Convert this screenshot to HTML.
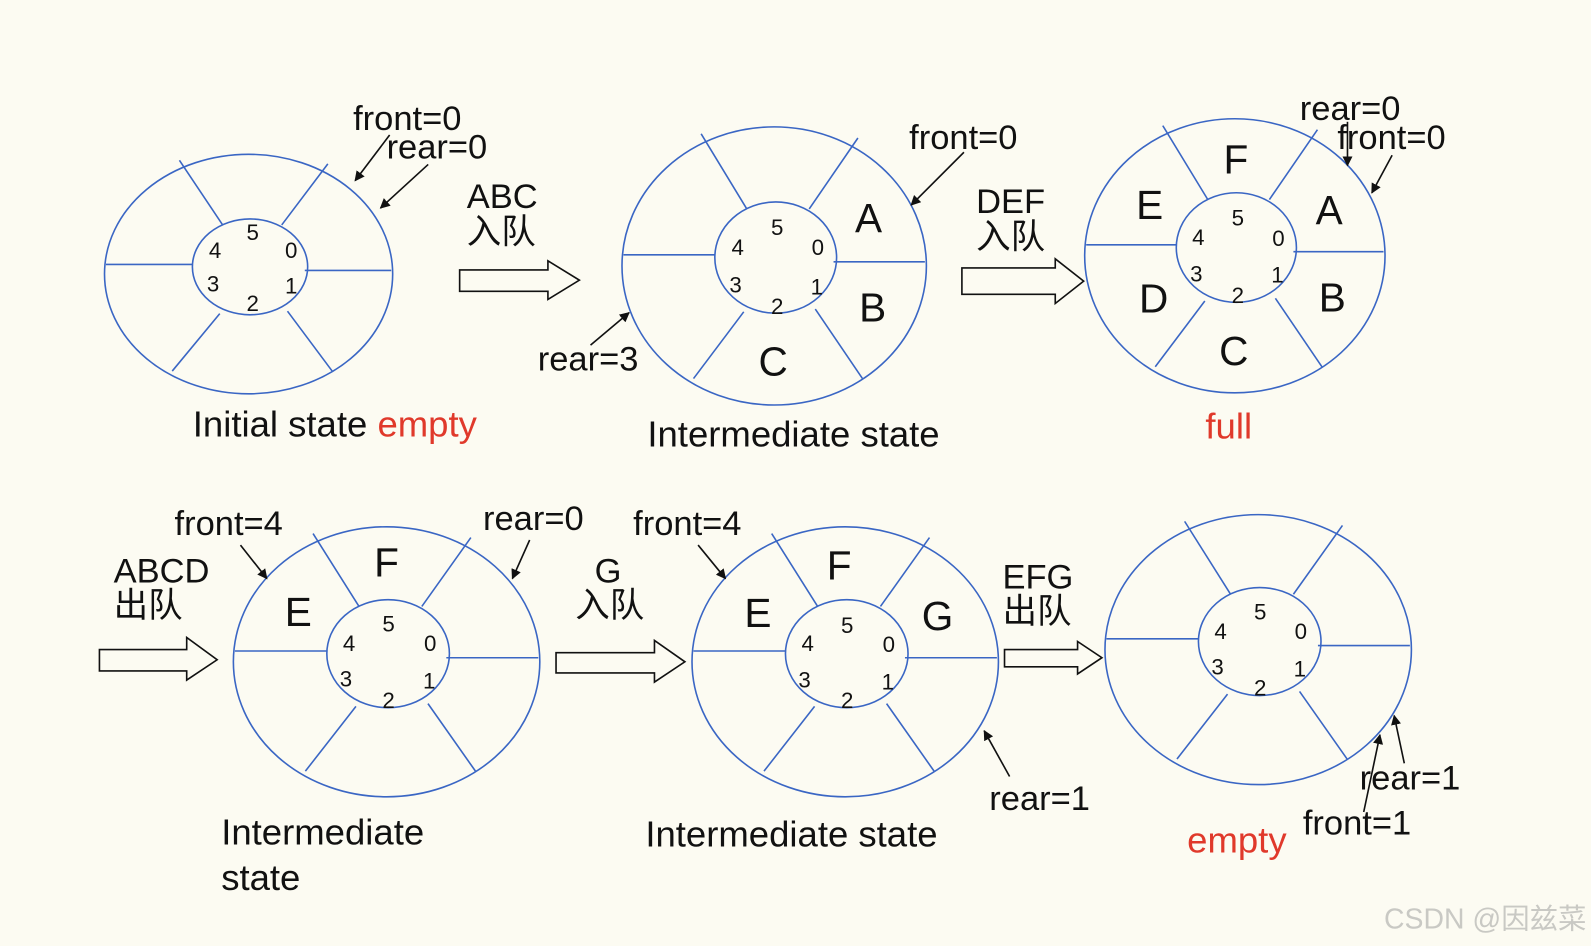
<!DOCTYPE html>
<html><head><meta charset="utf-8"><style>
html,body{margin:0;padding:0;background:#fcfbf2;}
svg{display:block;}
text{font-family:"Liberation Sans","Noto Sans CJK SC",sans-serif;fill:#111;}
.n{font-size:22px;text-anchor:middle;dominant-baseline:central;}
.L{font-size:40px;text-anchor:middle;dominant-baseline:central;}
.t{font-size:34px;}
.c{font-size:34px;}
.r{fill:#e0392b;}
</style></head><body>
<svg width="1591" height="946" viewBox="0 0 1568 932" preserveAspectRatio="none" xmlns="http://www.w3.org/2000/svg">
<defs>
<g id="ring" fill="none" stroke="#3a66c4" stroke-width="1.6">
<ellipse cx="0" cy="0" rx="100" ry="100" vector-effect="non-scaling-stroke"/>
<ellipse cx="1" cy="-6" rx="40" ry="40" vector-effect="non-scaling-stroke"/>
<line x1="-48" y1="-95" x2="-18" y2="-41" vector-effect="non-scaling-stroke"/>
<line x1="55" y1="-92" x2="23" y2="-41" vector-effect="non-scaling-stroke"/>
<line x1="-99" y1="-8" x2="-39" y2="-8" vector-effect="non-scaling-stroke"/>
<line x1="39" y1="-3" x2="99" y2="-3" vector-effect="non-scaling-stroke"/>
<line x1="-53" y1="81" x2="-20" y2="33" vector-effect="non-scaling-stroke"/>
<line x1="58" y1="81" x2="27" y2="31" vector-effect="non-scaling-stroke"/>
</g>
<marker id="ah" markerWidth="10" markerHeight="10" refX="9" refY="5" orient="auto" markerUnits="userSpaceOnUse" viewBox="0 0 10 10"><path d="M0,0 L10,5 L0,10 Z" fill="#111"/></marker>
</defs>
<rect width="1568" height="932" fill="#fcfbf2"/>

<use href="#ring" transform="translate(245,270) scale(1.42,1.18)"/>
<use href="#ring" transform="translate(763,262) scale(1.5,1.37)"/>
<use href="#ring" transform="translate(1217,252) scale(1.48,1.35)"/>
<use href="#ring" transform="translate(381,652) scale(1.51,1.33)"/>
<use href="#ring" transform="translate(833,652) scale(1.51,1.33)"/>
<use href="#ring" transform="translate(1240,640) scale(1.51,1.33)"/>

<!-- numbers -->
<g class="n">
<text class="n" x="249" y="229">5</text><text class="n" x="212" y="247">4</text><text class="n" x="287" y="247">0</text><text class="n" x="210" y="280">3</text><text class="n" x="287" y="282">1</text><text class="n" x="249" y="299">2</text>
<text class="n" x="766" y="224">5</text><text class="n" x="727" y="244">4</text><text class="n" x="806" y="244">0</text><text class="n" x="725" y="281">3</text><text class="n" x="805" y="283">1</text><text class="n" x="766" y="302">2</text>
<text class="n" x="1220" y="215">5</text><text class="n" x="1181" y="234">4</text><text class="n" x="1260" y="235">0</text><text class="n" x="1179" y="270">3</text><text class="n" x="1259" y="271">1</text><text class="n" x="1220" y="291">2</text>
<text class="n" x="383" y="615">5</text><text class="n" x="344" y="634">4</text><text class="n" x="424" y="634">0</text><text class="n" x="341" y="669">3</text><text class="n" x="423" y="671">1</text><text class="n" x="383" y="690">2</text>
<text class="n" x="835" y="616">5</text><text class="n" x="796" y="634">4</text><text class="n" x="876" y="635">0</text><text class="n" x="793" y="670">3</text><text class="n" x="875" y="672">1</text><text class="n" x="835" y="690">2</text>
<text class="n" x="1242" y="603">5</text><text class="n" x="1203" y="622">4</text><text class="n" x="1282" y="622">0</text><text class="n" x="1200" y="657">3</text><text class="n" x="1281" y="659">1</text><text class="n" x="1242" y="678">2</text>
</g>

<!-- letters -->
<text class="L" x="856" y="215">A</text><text class="L" x="860" y="303">B</text><text class="L" x="762" y="356">C</text>
<text class="L" x="1218" y="157">F</text><text class="L" x="1133" y="202">E</text><text class="L" x="1310" y="207">A</text><text class="L" x="1137" y="294">D</text><text class="L" x="1313" y="293">B</text><text class="L" x="1216" y="346">C</text>
<text class="L" x="381" y="554">F</text><text class="L" x="294" y="603">E</text>
<text class="L" x="827" y="557">F</text><text class="L" x="747" y="604">E</text><text class="L" x="924" y="607">G</text>

<!-- pointer arrows -->
<g stroke="#111" stroke-width="1.6" fill="none" marker-end="url(#ah)">
<line x1="384" y1="133" x2="350" y2="178"/>
<line x1="422" y1="162" x2="375" y2="205"/>
<line x1="950" y1="150" x2="898" y2="202"/>
<line x1="582" y1="340" x2="620" y2="308"/>
<line x1="1328" y1="120" x2="1328" y2="163"/>
<line x1="1372" y1="153" x2="1352" y2="190"/>
<line x1="237" y1="537" x2="263" y2="570"/>
<line x1="522" y1="532" x2="505" y2="570"/>
<line x1="688" y1="537" x2="715" y2="570"/>
<line x1="995" y1="765" x2="970" y2="720"/>
<line x1="1384" y1="752" x2="1374" y2="705"/>
<line x1="1344" y1="800" x2="1360" y2="724"/>
</g>

<!-- hollow arrows -->
<g fill="#fcfbf2" stroke="#111" stroke-width="1.6">
<polygon points="453,266 540,266 540,257 571,276 540,295 540,287 453,287"/>
<polygon points="948,264 1040,264 1040,255 1068,277 1040,299 1040,290 948,290"/>
<polygon points="98,640 184,640 184,628 214,650 184,670 184,661 98,661"/>
<polygon points="548,643 645,643 645,631 675,652 645,672 645,663 548,663"/>
<polygon points="990,640 1062,640 1062,632 1086,648 1062,664 1062,657 990,657"/>
</g>

<!-- labels -->
<text class="t" x="348" y="128">front=0</text>
<text class="t" x="381" y="156">rear=0</text>
<text class="c" x="460" y="205">ABC</text><text class="c" x="460" y="240">入队</text>
<text class="t" x="896" y="147">front=0</text>
<text class="t" x="530" y="365">rear=3</text>
<text class="c" x="962" y="210">DEF</text><text class="c" x="962" y="245">入队</text>
<text class="t" x="1281" y="118">rear=0</text>
<text class="t" x="1318" y="147">front=0</text>
<text x="190" y="430" style="font-size:36px">Initial state <tspan class="r">empty</tspan></text>
<text x="638" y="440" style="font-size:36px">Intermediate state</text>
<text class="r" x="1188" y="432" style="font-size:36px">full</text>

<text class="t" x="172" y="527">front=4</text>
<text class="t" x="476" y="522">rear=0</text>
<text class="c" x="112" y="574">ABCD</text><text class="c" x="112" y="608">出队</text>
<text class="c" x="586" y="574">G</text><text class="c" x="567" y="608">入队</text>
<text class="t" x="624" y="527">front=4</text>
<text class="c" x="988" y="580">EFG</text><text class="c" x="988" y="614">出队</text>
<text class="t" x="975" y="798">rear=1</text>
<text x="218" y="832" style="font-size:36px">Intermediate</text>
<text x="218" y="877" style="font-size:36px">state</text>
<text x="636" y="834" style="font-size:36px">Intermediate state</text>
<text class="t" x="1340" y="778">rear=1</text>
<text class="t" x="1284" y="822">front=1</text>
<text class="r" x="1170" y="840" style="font-size:36px">empty</text>
<text x="1364" y="915" style="font-size:28px;fill:#c9c9c4">CSDN @因兹菜</text>
</svg>
</body></html>
